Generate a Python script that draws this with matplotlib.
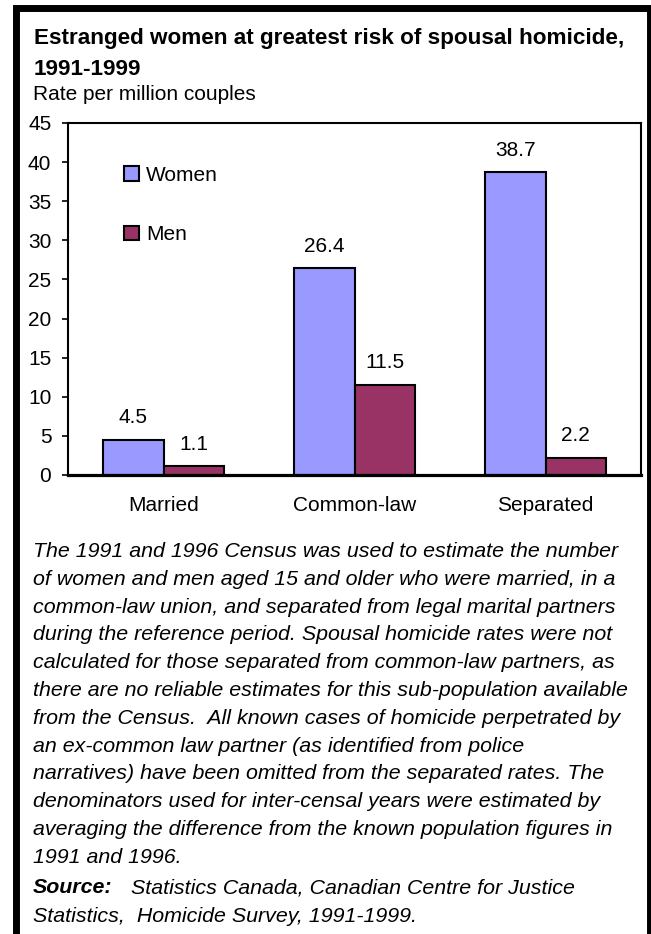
import numpy as np
import matplotlib
matplotlib.use("Agg")
import matplotlib.pyplot as plt
from matplotlib.patches import Patch, Rectangle

plt.rcParams['font.family'] = ['Liberation Sans', 'DejaVu Sans']

# data
categories = ["Married", "Common-law", "Separated"]
women = [4.5, 26.4, 38.7]
men = [1.1, 11.5, 2.2]
series_names = ["Women", "Men"]
yticks = [0, 5, 10, 15, 20, 25, 30, 35, 40, 45]

title_lines = ["Estranged women at greatest risk of spousal homicide,", "1991-1999"]
subtitle = "Rate per million couples"
note_lines = [
    "The 1991 and 1996 Census was used to estimate the number",
    "of women and men aged 15 and older who were married, in a",
    "common-law union, and separated from legal marital partners",
    "during the reference period. Spousal homicide rates were not",
    "calculated for those separated from common-law partners, as",
    "there are no reliable estimates for this sub-population available",
    "from the Census.  All known cases of homicide perpetrated by",
    "an ex-common law partner (as identified from police",
    "narratives) have been omitted from the separated rates. The",
    "denominators used for inter-censal years were estimated by",
    "averaging the difference from the known population figures in",
    "1991 and 1996.",
]
source_label = "Source:"
source_lines = ["Statistics Canada, Canadian Centre for Justice",
                "Statistics,  Homicide Survey, 1991-1999."]

W, H = 651, 934
WOMEN_COLOR = "#9999FF"
MEN_COLOR = "#993366"
FS = 15
NOTE_FS = 15.4


def fx(px):
    return px / W


def fy(py):
    return 1 - py / H


fig = plt.figure(figsize=(W / 100, H / 100), dpi=100)
fig.patch.set_facecolor("white")

# outer frame
fig.patches.append(Rectangle((fx(15.5), fy(1000)), fx(650) - fx(15.5), fy(7.5) - fy(1000),
                             transform=fig.transFigure, fill=False, edgecolor="black",
                             linewidth=5.0, zorder=0))

ax = fig.add_axes([fx(68), fy(475), fx(641) - fx(68), fy(123) - fy(475)])

x = np.arange(len(categories))
w = 0.315
b1 = ax.bar(x - w / 2, women, w, color=WOMEN_COLOR, edgecolor="black", linewidth=1.5,
            label=series_names[0], zorder=2)
b2 = ax.bar(x + w / 2, men, w, color=MEN_COLOR, edgecolor="black", linewidth=1.5,
            label=series_names[1], zorder=2)

for bars, vals in ((b1, women), (b2, men)):
    for bar, v in zip(bars, vals):
        ax.annotate(f"{v:.1f}", (bar.get_x() + bar.get_width() / 2, v),
                    xytext=(0, 16), textcoords="offset points",
                    ha="center", va="center", fontsize=FS)

ax.set_xlim(-0.5, len(categories) - 0.5)
ax.set_ylim(0, 45)
ax.set_yticks(yticks)
ax.set_xticks(x)
ax.set_xticklabels(categories)
ax.tick_params(axis="y", direction="out", length=4, width=1.2, pad=8, labelsize=FS)
ax.tick_params(axis="x", length=0, pad=15, labelsize=FS)
for side in ("top", "right", "left"):
    ax.spines[side].set_linewidth(1.5)
ax.spines["bottom"].set_linewidth(2.3)

handles = [Patch(facecolor=WOMEN_COLOR, edgecolor="black", linewidth=1.5),
           Patch(facecolor=MEN_COLOR, edgecolor="black", linewidth=1.5)]
ax.legend(handles, series_names, loc="upper left", bbox_to_anchor=(fx(124), fy(166)),
          bbox_transform=fig.transFigure, frameon=False, fontsize=FS,
          handlelength=0.7, handleheight=0.7, handletextpad=0.35,
          labelspacing=1.93, borderpad=0, borderaxespad=0)

# titles
fig.text(fx(34), fy(44), title_lines[0], fontsize=16.2, fontweight="bold", va="baseline")
fig.text(fx(34), fy(75), title_lines[1], fontsize=16.2, fontweight="bold", va="baseline")
fig.text(fx(33), fy(100), subtitle, fontsize=FS, va="baseline")

# footnote
for i, line in enumerate(note_lines):
    fig.text(fx(33), fy(557 + i * 27.8), line, fontsize=NOTE_FS, style="italic", va="baseline")
fig.text(fx(33), fy(893), source_label, fontsize=NOTE_FS, style="italic", fontweight="bold",
         va="baseline")
fig.text(fx(131), fy(893), source_lines[0], fontsize=NOTE_FS, style="italic", va="baseline")
fig.text(fx(33), fy(922), source_lines[1], fontsize=NOTE_FS, style="italic", va="baseline")

fig.savefig("out.png", dpi=100)
